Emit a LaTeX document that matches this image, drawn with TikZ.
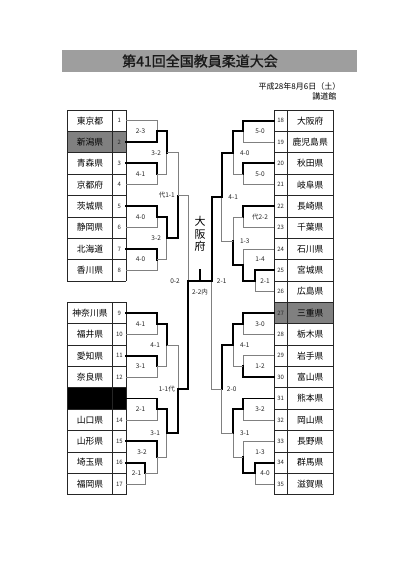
\documentclass[tikz,border=0pt]{standalone}
\usepackage{fontspec}
\newfontfamily\cjk{Noto Sans CJK JP}
\newfontfamily\cjktitle[FakeBold=1.2]{Noto Sans CJK JP}
\usetikzlibrary{calc}
\newcommand{\mt}[5]{%
  \coordinate (tmp) at ($(#2)!0.5!(#3)$);
  \coordinate (#1) at (tmp -| #4);
  \ifnum#5=1 \draw[lose] (#3) -| (#1); \draw[win] (#2) -| (#1);
  \else \draw[lose] (#2) -| (#1); \draw[win] (#3) -| (#1); \fi
}
\begin{document}
\begin{tikzpicture}[x=1pt,y=-1pt,
  lose/.style={draw=black!50, line width=0.7pt},
  win/.style={draw=black, line width=1.9pt, line cap=rect},
  tab/.style={draw=black!85, line width=0.7pt},
  nm/.style={font=\cjk\fontsize{8.8}{9}\selectfont, inner sep=0pt},
  num/.style={font=\cjk\fontsize{6}{6}\selectfont, inner sep=0pt, text=black!85},
  sc/.style={font=\cjk\fontsize{6.5}{6.5}\selectfont, inner sep=0pt, text=black!85},
]
\useasboundingbox (0,0) rectangle (420,578);
\fill[white] (0,0) rectangle (420,578);
% title
\fill[black!38] (62,50) rectangle (357,72);
\node[font=\cjktitle\fontsize{14}{14}\selectfont, text=black!90, inner sep=0pt] (title) at (200,61) {第41回全国教員柔道大会};
\node[font=\cjk\fontsize{8}{8}\selectfont, anchor=east, inner sep=0pt] (date) at (340.5,86) {平成28年8月6日（土）};
\node[font=\cjk\fontsize{8}{8}\selectfont, anchor=east, inner sep=0pt] (venue) at (336.5,96.5) {講道館};
% shaded rows
\fill[black!50] (67,131.37) rectangle (126,152.74);
\fill[black] (67,387.81) rectangle (126,409.18);
\fill[black!50] (274,302.33) rectangle (333,323.70);
% tables
\foreach \k in {0,...,8} \draw[tab] (67,{110+\k*21.37}) -- (126,{110+\k*21.37});
\foreach \k in {9,...,18} \draw[tab] (67,{110+\k*21.37}) -- (126,{110+\k*21.37});
\foreach \k in {0,...,18} \draw[tab] (274,{110+\k*21.37}) -- (333,{110+\k*21.37});
\foreach \xx in {67,126} {\draw[tab] (\xx,110) -- (\xx,280.96); \draw[tab] (\xx,302.33) -- (\xx,494.66);}
\draw[tab, line width=1pt] (112.7,110) -- (112.7,280.96);
\draw[tab, line width=1pt] (112.7,302.33) -- (112.7,494.66);
\draw[tab] (274,110) -- (274,494.66);
\draw[tab] (333,110) -- (333,494.66);
\draw[tab, line width=1pt] (287.3,110) -- (287.3,494.66);
% entries
\foreach \i/\nm in {1/東京都,2/新潟県,3/青森県,4/京都府,5/茨城県,6/静岡県,7/北海道,8/香川県}{
  \pgfmathsetmacro\c{110+(\i-0.5)*21.37}
  \node[nm] (n\i) at (90,\c) {\nm};
  \node[num] (k\i) at (119.4,\c) {\i};
  \coordinate (e\i) at (126,\c);
}
\foreach \i/\nm in {9/神奈川県,10/福井県,11/愛知県,12/奈良県,14/山口県,15/山形県,16/埼玉県,17/福岡県}{
  \pgfmathsetmacro\c{110+(\i+0.5)*21.37}
  \node[nm] (n\i) at (90,\c) {\nm};
  \node[num] (k\i) at (119.4,\c) {\i};
}
\foreach \i in {9,...,17}{
  \pgfmathsetmacro\c{110+(\i+0.5)*21.37}
  \coordinate (e\i) at (126,\c);
}
\foreach \i/\nm in {18/大阪府,19/鹿児島県,20/秋田県,21/岐阜県,22/長崎県,23/千葉県,24/石川県,25/宮城県,26/広島県,27/三重県,28/栃木県,29/岩手県,30/富山県,31/熊本県,32/岡山県,33/長野県,34/群馬県,35/滋賀県}{
  \pgfmathsetmacro\c{110+(\i-17.5)*21.37}
  \node[nm] (n\i) at (310.2,\c) {\nm};
  \node[num] (k\i) at (280.7,\c) {\i};
  \coordinate (e\i) at (274,\c);
}
% columns
\coordinate (cL1) at (157,0);
\coordinate (cL2) at (166.7,0);
\coordinate (cL3) at (178.3,0);
\coordinate (cLs) at (145,0);
\coordinate (cR1) at (243,0);
\coordinate (cR2) at (233.3,0);
\coordinate (cR3) at (221.7,0);
\coordinate (cRs) at (255,0);
% left top
\mt{a1}{e1}{e2}{cL1}{2}
\mt{a2}{e3}{e4}{cL1}{1}
\mt{a3}{e5}{e6}{cL1}{1}
\mt{a4}{e7}{e8}{cL1}{1}
\mt{a5}{a1}{a2}{cL2}{1}
\mt{a6}{a3}{a4}{cL2}{1}
\mt{aLT}{a5}{a6}{cL3}{2}
% left bottom
\mt{b1}{e9}{e10}{cL1}{1}
\mt{b2}{e11}{e12}{cL1}{1}
\mt{b3}{b1}{b2}{cL2}{1}
\mt{b4}{e13}{e14}{cL1}{1}
\mt{b5}{e16}{e17}{cLs}{1}
\mt{b6}{e15}{b5}{cL1}{1}
\mt{b7}{b4}{b6}{cL2}{1}
\mt{aLB}{b3}{b7}{cL3}{2}
% right top
\mt{c1}{e18}{e19}{cR1}{1}
\mt{c2}{e20}{e21}{cR1}{1}
\mt{c3}{c1}{c2}{cR2}{1}
\mt{c4}{e22}{e23}{cR1}{1}
\mt{c5}{e25}{e26}{cRs}{1}
\mt{c6}{e24}{c5}{cR1}{2}
\mt{c7}{c4}{c6}{cR2}{2}
\mt{aRT}{c3}{c7}{cR3}{1}
% right bottom
\mt{d1}{e27}{e28}{cR1}{1}
\mt{d2}{e29}{e30}{cR1}{2}
\mt{d3}{d1}{d2}{cR2}{1}
\mt{d4}{e31}{e32}{cR1}{1}
\mt{d5}{e34}{e35}{cRs}{1}
\mt{d6}{e33}{d5}{cR1}{2}
\mt{d7}{d4}{d6}{cR2}{1}
\mt{aRB}{d3}{d7}{cR3}{1}
% semifinals and final
\coordinate (sfL) at (188.3,281);
\coordinate (sfR) at (211.7,281);
\coordinate (tk) at (200,270);
\coordinate (tb) at (200,281);
\draw[lose] (aLT) -| (sfL);
\draw[lose] (aRB) -| (sfR);
\draw[win] (aLB) -| (sfL);
\draw[win] (aRT) -| (sfR);
\draw[win] (sfL) -- (sfR);
\draw[win] (tb) -- (tk);
\node[font=\cjk\fontsize{11}{12.5}\selectfont, align=center, inner sep=0pt] (champ) at (200,234) {大\\阪\\府};
% scores left
\node[sc] (s1) at ([xshift=-16.5pt]a1) {2-3};
\node[sc] (s2) at ([xshift=-16.5pt]a2) {4-1};
\node[sc] (s3) at ([xshift=-16.5pt]a3) {4-0};
\node[sc] (s4) at ([xshift=-16.5pt]a4) {4-0};
\node[sc] (s5) at ([xshift=-10.5pt]a5) {3-2};
\node[sc] (s6) at ([xshift=-10.5pt]a6) {3-2};
\node[sc] (s7) at ([xshift=-11.5pt]aLT) {代1-1};
\node[sc] (s9) at ([xshift=-16.5pt]b1) {4-1};
\node[sc] (s10) at ([xshift=-16.5pt]b2) {3-1};
\node[sc] (s11) at ([xshift=-11.5pt]b3) {4-1};
\node[sc] (s12) at ([xshift=-16.5pt]b4) {2-1};
\node[sc] (s13) at ([xshift=-8.5pt]b5) {2-1};
\node[sc] (s14) at ([xshift=-15pt,yshift=5.5pt]b6) {3-2};
\node[sc] (s15) at ([xshift=-11.5pt]b7) {3-1};
\node[sc] (s16) at ([xshift=-11.5pt]aLB) {1-1代};
% scores right
\node[sc] (t1) at ([xshift=17pt]c1) {5-0};
\node[sc] (t2) at ([xshift=17pt]c2) {5-0};
\node[sc] (t3) at ([xshift=11.5pt]c3) {4-0};
\node[sc] (t4) at ([xshift=17pt]c4) {代2-2};
\node[sc] (t5) at ([xshift=10pt]c5) {2-1};
\node[sc] (t6) at ([xshift=17pt,yshift=5.5pt]c6) {1-4};
\node[sc] (t7) at ([xshift=11.5pt]c7) {1-3};
\node[sc] (t8) at ([xshift=11.5pt]aRT) {4-1};
\node[sc] (t9) at ([xshift=17pt]d1) {3-0};
\node[sc] (t10) at ([xshift=17pt]d2) {1-2};
\node[sc] (t11) at ([xshift=11.5pt]d3) {4-1};
\node[sc] (t12) at ([xshift=17pt]d4) {3-2};
\node[sc] (t13) at ([xshift=10pt]d5) {4-0};
\node[sc] (t14) at ([xshift=17pt,yshift=5.5pt]d6) {1-3};
\node[sc] (t15) at ([xshift=11.5pt]d7) {3-1};
\node[sc] (t16) at ([xshift=10pt]aRB) {2-0};
\node[sc] (f1) at (175,281) {0-2};
\node[sc] (f2) at (221.7,281) {2-1};
\node[sc] (f3) at (200,291.7) {2-2内};
\end{tikzpicture}
\end{document}
